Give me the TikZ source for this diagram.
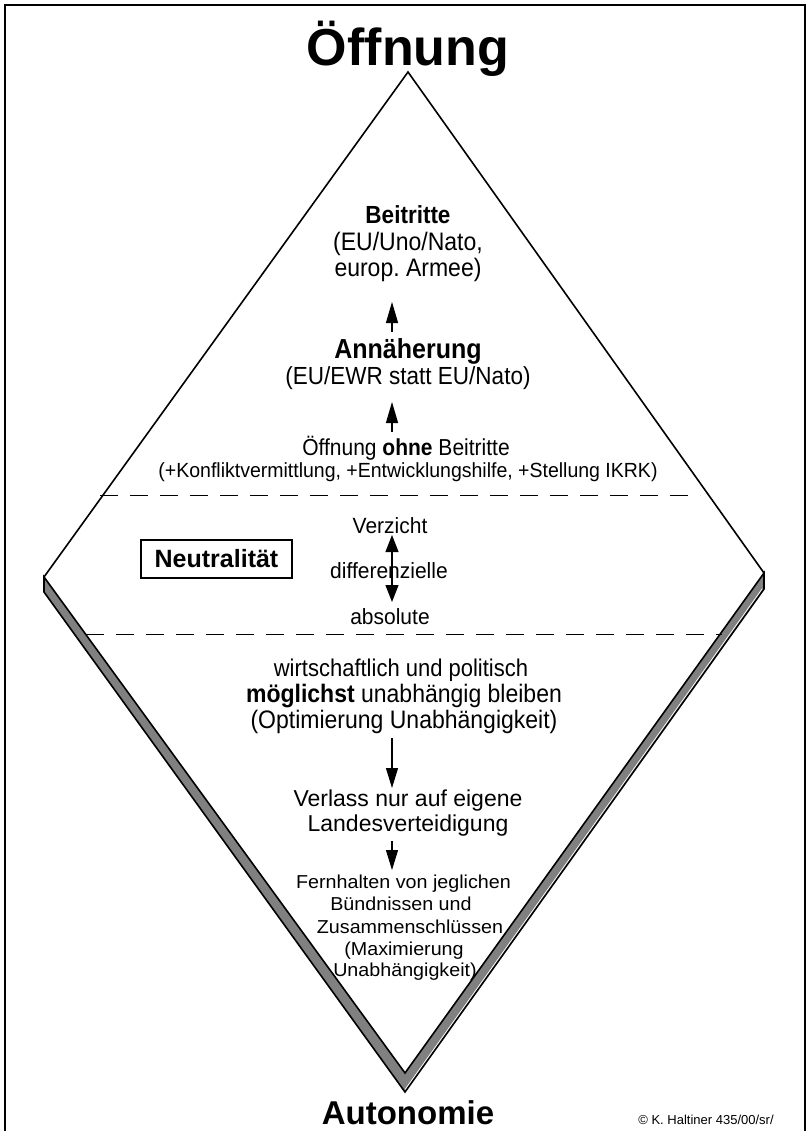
\documentclass[tikz,border=0pt]{standalone}
\usepackage{fontspec}
\usepackage{graphicx}
\setmainfont{Liberation Sans}
\usetikzlibrary{arrows.meta}
\definecolor{slab}{RGB}{128,128,128}
\newcommand{\fs}[1]{\fontsize{#1}{#1}\selectfont}
\newcommand{\vs}[2][1.1]{\scalebox{1}[#1]{#2}}
\frenchspacing
\begin{document}
\begin{tikzpicture}[x=1pt,y=-1pt,
  ln/.style={inner sep=0pt,anchor=base},
  upar/.style={-{Triangle[width=12pt,length=21pt]},line width=1.2pt},
  dnar/.style={-{Triangle[width=12pt,length=20pt]},line width=1.2pt},
  dbar/.style={{Triangle[width=13pt,length=17pt]}-{Triangle[width=13pt,length=17pt]},line width=1.2pt},
  sep/.style={dash pattern=on 18pt off 12pt,line width=1pt},
  edge/.style={line width=1.6pt,line join=miter}]
\useasboundingbox (0,0) rectangle (808,1131);
% frame
\coordinate (f1) at (5,1131); \coordinate (f2) at (5,5);
\coordinate (f3) at (805,5); \coordinate (f4) at (805,1131);
\draw[line width=2pt] (f1) -- (f2) -- (f3) -- (f4);
% diamond
\coordinate (T) at (408,72);
\coordinate (L) at (44,577);
\coordinate (R) at (764,573);
\coordinate (B) at (405,1073);
\coordinate (L2) at (44,592);
\coordinate (R2) at (764,589);
\coordinate (B2) at (405,1092);
\draw[edge,fill=slab] (L) -- (B) -- (R) -- (R2) -- (B2) -- (L2) -- cycle;
\draw[edge] (L) -- (T) -- (R);
\draw[white,line width=0.7pt] ([shift={(-2,0)}]R2) -- ([shift={(0,-2.5)}]B2);
% separators
\coordinate (s1a) at (100,495); \coordinate (s1b) at (700,495);
\coordinate (s2a) at (86,634); \coordinate (s2b) at (722,634);
\draw[sep] (s1a) -- (s1b);
\draw[sep] (s2a) -- (s2b);
% titles
\node[ln,font=\bfseries\fs{52}] (top) at (408,66) {Öffnung};
\node[ln,font=\bfseries\fs{33}] (bot) at (408,1124) {Autonomie};
\node[ln,font=\fs{13}] (copy) at (706,1124) {© K. Haltiner 435/00/sr/};
% upper block
\node[ln,font=\bfseries\fs{22.5}] (b1) at (408,224) {\vs{Beitritte}};
\node[ln,font=\fs{23}] (b2) at (408,251) {\vs{(EU/Uno/Nato,}};
\node[ln,font=\fs{23}] (b3) at (408,277) {\vs{europ. Armee)}};
\node[ln,font=\bfseries\fs{25}] (a1) at (408,358) {\vs{Annäherung}};
\node[ln,font=\fs{22.5}] (a2) at (408,384) {\vs{(EU/EWR statt EU/Nato)}};
\node[ln,font=\fs{21}] (o1) at (406,455) {\vs{Öffnung \textbf{ohne} Beitritte}};
\node[ln,font=\fs{19.5}] (o2) at (408,477) {\vs[1.05]{(+Konfliktvermittlung, +Entwicklungshilfe, +Stellung IKRK)}};
\coordinate (ar1s) at (392,332); \coordinate (ar1e) at (392,302);
\coordinate (ar2s) at (392,432); \coordinate (ar2e) at (392,402);
\draw[upar] (ar1s) -- (ar1e);
\draw[upar] (ar2s) -- (ar2e);
% neutrality
\node[draw,line width=2pt,minimum width=151pt,minimum height=38pt,inner sep=0pt,font=\bfseries\fs{25}] (neu) at (216.5,559) {Neutralität};
\node[ln,font=\fs{21}] (n1) at (390,533) {\vs[1.05]{Verzicht}};
\node[ln,font=\fs{21}] (n2) at (389,578) {\vs[1.05]{differenzielle}};
\node[ln,font=\fs{21}] (n3) at (390,624) {\vs[1.05]{absolute}};
\coordinate (dbt) at (392,535); \coordinate (dbb) at (392,602);
\draw[dbar] (dbt) -- (dbb);
% lower block
\node[ln,font=\fs{22}] (w1) at (401,676) {\vs{wirtschaftlich und politisch}};
\node[ln,font=\fs{23}] (w2) at (404,702) {\vs{\textbf{möglichst} unabhängig bleiben}};
\node[ln,font=\fs{23}] (w3) at (404,728) {\vs{(Optimierung Unabhängigkeit)}};
\node[ln,font=\fs{23}] (v1) at (408,806) {Verlass nur auf eigene};
\node[ln,font=\fs{23}] (v2) at (408,831) {Landesverteidigung};
\node[ln,font=\fs{19.7}] (h1) at (403.5,888) {\vs[0.95]{Fernhalten von jeglichen}};
\node[ln,font=\fs{19.7}] (h2) at (401,910) {\vs[0.95]{Bündnissen und}};
\node[ln,font=\fs{19.7}] (h3) at (410,933) {\vs[0.95]{Zusammenschlüssen}};
\node[ln,font=\fs{19.7}] (h4) at (404,955) {\vs[0.95]{(Maximierung}};
\node[ln,font=\fs{19.7}] (h5) at (405,976) {\vs[0.95]{Unabhängigkeit)}};
\coordinate (ar3s) at (392,738); \coordinate (ar3e) at (392,788);
\coordinate (ar4s) at (392,841); \coordinate (ar4e) at (392,870);
\draw[dnar] (ar3s) -- (ar3e);
\draw[dnar] (ar4s) -- (ar4e);
\end{tikzpicture}
\end{document}
